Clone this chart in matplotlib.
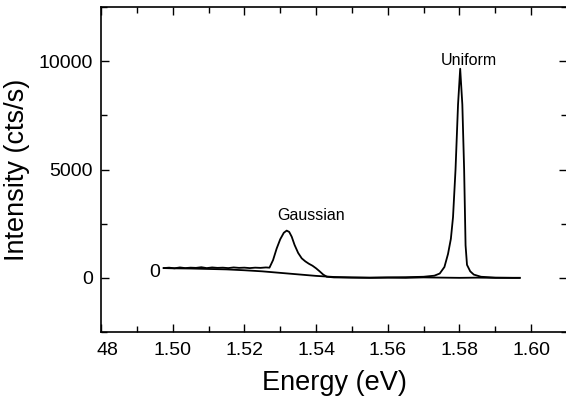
import matplotlib
matplotlib.use("Agg")
import matplotlib.pyplot as plt
from matplotlib.ticker import MultipleLocator
from matplotlib.transforms import ScaledTranslation

plt.rcParams['font.family'] = ['Liberation Sans', 'DejaVu Sans']

# "Gaussian" sample spectrum (energy in eV, intensity in cts/s)
gauss_e = [1.4975, 1.4990, 1.5005, 1.5020, 1.5035, 1.5050, 1.5065, 1.5080, 1.5095,
           1.5110, 1.5125, 1.5140, 1.5155, 1.5170, 1.5185, 1.5200, 1.5215, 1.5230,
           1.5245, 1.5260, 1.5270, 1.5280, 1.5290, 1.5300, 1.5310, 1.5318, 1.5325,
           1.5332, 1.5340, 1.5350, 1.5360, 1.5370, 1.5380, 1.5390, 1.5400, 1.5410,
           1.5420, 1.5430, 1.5450, 1.5500, 1.5550, 1.5600, 1.5650, 1.5700, 1.5750,
           1.5800, 1.5850, 1.5900, 1.5968]
gauss_i = [450, 470, 440, 480, 450, 470, 460, 490, 450, 480, 460, 470, 450, 480,
           460, 470, 450, 470, 460, 480, 470, 820, 1350, 1780, 2080, 2180, 2120,
           1900, 1520, 1150, 900, 760, 650, 560, 440, 300, 150, 50, 20, 10, 0, 10,
           0, 20, 10, 0, 10, 0, 0]

# "Uniform" sample spectrum
unif_e = [1.4975, 1.5000, 1.5050, 1.5100, 1.5150, 1.5200, 1.5250, 1.5300, 1.5350,
          1.5400, 1.5450, 1.5500, 1.5550, 1.5600, 1.5650, 1.5700, 1.5730, 1.5745,
          1.5758, 1.5768, 1.5776, 1.5782, 1.5789, 1.5796, 1.5802, 1.5808, 1.5813,
          1.5817, 1.5821, 1.5830, 1.5840, 1.5860, 1.5900, 1.5950, 1.5968]
unif_i = [450, 440, 430, 410, 390, 350, 300, 230, 160, 90, 40, 20, 10, 20, 30, 50,
          100, 200, 500, 1100, 1800, 2800, 5000, 8000, 9650, 8000, 5000, 1500,
          600, 300, 150, 50, 10, 0, 0]

xtick_vals = [1.48, 1.50, 1.52, 1.54, 1.56, 1.58, 1.60]
xtick_text = ['48', '1.50', '1.52', '1.54', '1.56', '1.58', '1.60']
ytick_vals = [0, 5000, 10000]

fig = plt.figure(figsize=(5.66, 3.98), dpi=100)
ax = fig.add_axes([0.1784, 0.1658, 0.8234, 0.8166])

ax.plot(gauss_e, gauss_i, color='black', lw=1.3)
ax.plot(unif_e, unif_i, color='black', lw=1.3)

ax.text(1.5386, 2900, 'Gaussian', fontsize=11.5, ha='center', va='center')
ax.text(1.5825, 10010, 'Uniform', fontsize=11.5, ha='center', va='center')
ax.text(1.4966, 250, '0', fontsize=14, ha='right', va='center')

ax.set_xlim(1.48, 1.61)
ax.set_ylim(-2500, 12500)
ax.set_xticks(xtick_vals)
ax.set_xticklabels(xtick_text)
ax.set_yticks(ytick_vals)
ax.xaxis.set_minor_locator(MultipleLocator(0.01))
ax.yaxis.set_minor_locator(MultipleLocator(2500))
ax.tick_params(which='both', direction='in', top=True, right=True, labelsize=14, width=1)
ax.tick_params(axis='x', which='major', length=6, pad=7)
ax.tick_params(axis='y', which='major', length=6, pad=6)
ax.tick_params(which='minor', length=4)

# the cropped "1.48" label only shows "48"
lab = ax.get_xticklabels()[0]
lab.set_transform(lab.get_transform() + ScaledTranslation(0.065, 0, fig.dpi_scale_trans))

for s in ax.spines.values():
    s.set_linewidth(1.2)

ax.set_xlabel('Energy (eV)', fontsize=19.5, labelpad=8)
ax.set_ylabel('Intensity (cts/s)', fontsize=19.5, labelpad=6)

fig.savefig('out.png', dpi=100)
